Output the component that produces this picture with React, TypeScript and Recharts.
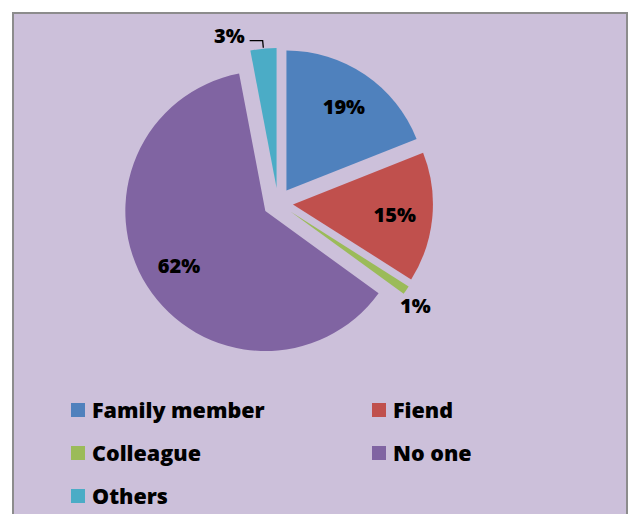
import React from 'react';
import { PieChart, Pie, Cell, Legend } from 'recharts';

const categories = ['Family member', 'Fiend', 'Colleague', 'No one', 'Others'];
const shares = [19, 15, 1, 62, 3];
const colors = ['#4F81BD', '#C0504D', '#9BBB59', '#8064A2', '#4BACC6'];

const FONT = '"Open Sans", Lato, sans-serif';
const RADIAN = Math.PI / 180;

// centre of the un-exploded pie, radius and explosion distance
const CX = 278;
const CY = 203;
const R = 140;
const EXPLODE = 15;

const data = categories.map((name, i) => ({ name, value: shares[i] }));
const total = shares.reduce((a, b) => a + b, 0);

// mid angle of each slice, clockwise from 12 o'clock
const midAngles = shares.map((v, i) => {
  const before = shares.slice(0, i).reduce((a, b) => a + b, 0);
  return ((before + v / 2) / total) * 360;
});

const polar = (cx: number, cy: number, r: number, angle: number) => ({
  x: cx + r * Math.cos(-angle * RADIAN),
  y: cy + r * Math.sin(-angle * RADIAN),
});

const makeLabel = (slice: number) => (props: any) => {
  const { cx, cy, midAngle, outerRadius, index, percent } = props;
  if (index !== slice) return null;
  const text = `${Math.round(percent * 100)}%`;
  const style = { fontFamily: FONT, fontSize: 20, fontWeight: 800, fill: '#000' };
  if (index === 4) {
    const p0 = polar(cx, cy, outerRadius + 1, midAngle);
    const p1 = polar(cx, cy, outerRadius + 8, midAngle);
    const p2 = { x: p1.x - 13, y: p1.y };
    return (
      <g>
        <polyline
          points={`${p0.x},${p0.y} ${p1.x},${p1.y} ${p2.x},${p2.y}`}
          fill="none"
          stroke="#000"
          strokeWidth={1.3}
        />
        <text x={p2.x - 5} y={p1.y - 5} textAnchor="end" dominantBaseline="central" {...style}>
          {text}
        </text>
      </g>
    );
  }
  if (index === 2) {
    const p = polar(cx, cy, outerRadius + 16, midAngle);
    return (
      <text x={p.x - 4} y={p.y + 6} textAnchor="middle" dominantBaseline="central" {...style}>
        {text}
      </text>
    );
  }
  const p = polar(cx, cy, outerRadius * 0.73, midAngle);
  return (
    <text x={p.x} y={p.y} textAnchor="middle" dominantBaseline="central" {...style}>
      {text}
    </text>
  );
};

const renderLegend = () => (
  <div style={{ position: 'relative', width: 629, height: 120, fontFamily: FONT }}>
    {categories.map((name, i) => (
      <div
        key={name}
        style={{
          position: 'absolute',
          left: i % 2 === 0 ? 71 : 372,
          top: Math.floor(i / 2) * 43,
          display: 'flex',
          alignItems: 'center',
          height: 26,
        }}
      >
        <span style={{ width: 14, height: 14, background: colors[i], display: 'inline-block', marginRight: 7 }} />
        <span style={{ fontSize: 21.5, fontWeight: 800, color: '#000', lineHeight: '26px' }}>{name}</span>
      </div>
    ))}
  </div>
);

export default function App() {
  return (
    <div style={{ position: 'fixed', left: 0, top: 0, width: 629, height: 514, overflow: 'hidden', background: '#fff' }}>
      <div
        style={{
          position: 'absolute',
          left: 12,
          top: 12,
          width: 616,
          height: 520,
          boxSizing: 'border-box',
          border: '2px solid #8c8c8c',
          background: '#CCC0DA',
        }}
      />
      <div style={{ position: 'absolute', left: 0, top: 0 }}>
        <PieChart width={629} height={514} margin={{ top: 0, right: 0, bottom: 0, left: 0 }}>
          {categories.map((name, i) => {
            const off = midAngles[i] * RADIAN;
            return (
              <Pie
                key={name}
                data={data}
                dataKey="value"
                nameKey="name"
                cx={CX + EXPLODE * Math.sin(off)}
                cy={CY - EXPLODE * Math.cos(off)}
                outerRadius={R}
                startAngle={90}
                endAngle={-270}
                stroke="none"
                label={makeLabel(i)}
                labelLine={false}
                isAnimationActive={false}
              >
                {data.map((d, j) => (
                  <Cell key={d.name} fill={j === i ? colors[j] : 'transparent'} stroke="none" />
                ))}
              </Pie>
            );
          })}
          <Legend
            content={renderLegend}
            verticalAlign="bottom"
            wrapperStyle={{ left: 0, top: 397, bottom: 'auto', width: 629 }}
          />
        </PieChart>
      </div>
    </div>
  );
}
